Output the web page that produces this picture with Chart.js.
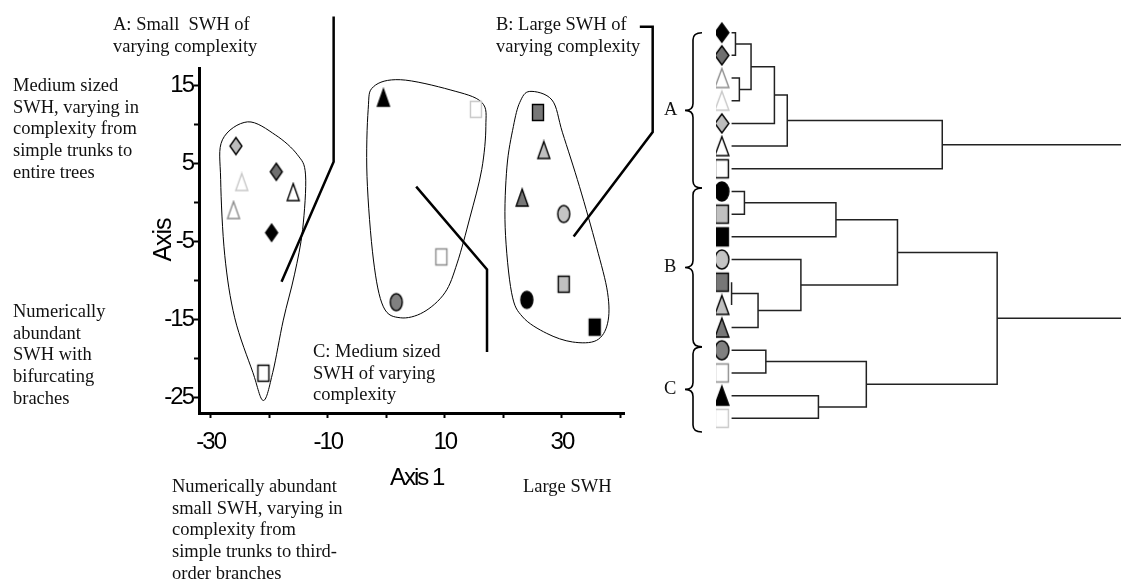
<!DOCTYPE html>
<html>
<head>
<meta charset="utf-8">
<script src="https://cdn.jsdelivr.net/npm/chart.js@4.4.1/dist/chart.umd.min.js"></script>
<style>
  body { margin: 0; background: #fff; }
  #page { position: relative; width: 1131px; height: 582px; overflow: hidden; }
  canvas { position: absolute; top: 0; }
  .note {
    position: absolute; white-space: pre; color: #111;
    font-family: 'Liberation Serif', 'Times New Roman', serif;
    font-size: 18.5px; line-height: 21.7px;
  }
  .axis-title {
    position: absolute; white-space: pre; color: #000;
    font-family: 'Liberation Sans', Arial, sans-serif;
    font-size: 24px; line-height: 28px; letter-spacing: -2px;
  }
</style>
</head>
<body>
<div id="page">
  <canvas id="ordination" width="660" height="582" style="left:0"></canvas>
  <canvas id="dendrogram" width="471" height="582" style="left:660px"></canvas>

  <div class="note" style="left:113px; top:14px">A: Small  SWH of
varying complexity</div>
  <div class="note" style="left:496px; top:14px">B: Large SWH of
varying complexity</div>
  <div class="note" style="left:13px; top:75px">Medium sized
SWH, varying in
complexity from
simple trunks to
entire trees</div>
  <div class="note" style="left:13px; top:301px">Numerically
abundant
SWH with
bifurcating
braches</div>
  <div class="note" style="left:313px; top:341px">C: Medium sized
SWH of varying
complexity</div>
  <div class="note" style="left:172px; top:476px">Numerically abundant
small SWH, varying in
complexity from
simple trunks to third-
order branches</div>
  <div class="note" style="left:523px; top:476px">Large SWH</div>

  <div class="axis-title" style="left:390px; top:463px">Axis 1</div>
  <div class="axis-title" style="left:135px; top:226px; width:54px; text-align:center; transform:rotate(-90deg); font-size:25px; letter-spacing:-1px">Axis</div>

  <div class="note group-label" id="label-A" style="left:664px">A</div>
  <div class="note group-label" id="label-B" style="left:664px">B</div>
  <div class="note group-label" id="label-C" style="left:664px">C</div>
</div>

<script>
// SWH types, in dendrogram leaf order
const SWH_TYPES = [
  'diamond-black', 'diamond-dark', 'triangle-grayline', 'triangle-paleline',
  'diamond-light', 'triangle-blackline', 'square-blackline',
  'circle-black', 'square-light', 'square-black', 'circle-light',
  'square-dark', 'triangle-light', 'triangle-dark',
  'circle-dark', 'square-grayline', 'triangle-black', 'square-paleline'
];

// ordination scores
const AXIS1_SCORES = [-19.6, -18.8, -26.1, -24.7, -25.7, -15.9, -21.0,
  24.0, 30.3, 35.6, 30.3, 25.9, 26.9, 23.2,
  1.7, 9.4, -0.5, 15.3];
const AXIS2_SCORES = [-3.9, 3.9, -1.0, 2.6, 7.2, 1.3, -21.9,
  -12.5, -10.5, -16.0, -1.5, 11.5, 6.7, 0.6,
  -12.8, -7.0, 13.4, 11.9];

const X_TICKS = [-30, -20, -10, 0, 10, 20, 30, 40];
const X_TICK_LABELS = ['-30', '', '-10', '', '10', '', '30', ''];
const Y_TICKS = [-25, -20, -15, -10, -5, 0, 5, 10, 15];
const Y_TICK_LABELS = ['-25', '', '-15', '', '-5', '', '5', '', '15'];

// group outlines (axis units)
const HULL_A_X = [-23.7, -18.9, -15.2, -13.8, -14.3, -15.7, -17.6, -19.4, -21.0, -22.8, -25.9, -27.6, -28.3, -28.0];
const HULL_A_Y = [10.3, 8.6, 6.1, 3.5, -3.5, -9.3, -15.1, -21.8, -25.4, -21.8, -14.8, -6.8, 2.9, 8.0];
const HULL_C_X = [-2.2, 2.4, 10.9, 16.3, 17.0, 16.3, 14.3, 12.1, 10.0, 6.3, 2.4, -0.5, -2.2, -3.3, -3.1];
const HULL_C_Y = [14.8, 15.7, 14.4, 12.8, 9.7, 4.2, -1.9, -7.8, -11.6, -14.1, -14.8, -13.4, -7.4, 3.3, 11.9];
const HULL_B_X = [24.5, 28.3, 30.1, 33.0, 35.9, 37.8, 37.8, 35.9, 31.8, 27.4, 23.3, 21.4, 20.3, 20.6, 21.7, 22.8];
const HULL_B_Y = [14.2, 13.1, 8.9, 2.0, -5.7, -11.6, -15.5, -17.7, -17.9, -16.8, -14.7, -11.6, -3.2, 4.5, 9.7, 12.8];

// leader lines from the group captions
const LEADER_A_X = [-9.0, -9.0, -17.9];
const LEADER_A_Y = [23.8, 5.2, -10.2];
const LEADER_B_X = [43.3, 45.5, 45.5, 32.0];
const LEADER_B_Y = [22.5, 22.5, 9.0, -4.4];
const LEADER_C_X = [5.1, 17.2, 17.2];
const LEADER_C_Y = [2.0, -8.6, -19.2];

// cluster analysis: merge k creates node 18 + k
const MERGE_LEFT = [0, 2, 18, 20, 21, 22, 7, 24, 11, 26, 10, 25, 14, 16, 30, 29];
const MERGE_RIGHT = [1, 3, 19, 4, 5, 6, 8, 9, 12, 13, 27, 28, 15, 17, 31, 32];
const MERGE_HEIGHT = [1.0, 2.0, 5.0, 11.0, 14.3, 54.1, 3.3, 26.8, 0, 6.8, 17.8, 42.6, 8.8, 22.3, 34.6, 68.2];
const TREE_EDGE = 100;

const GROUP_LABELS = ['A', 'B', 'C'];
const GROUP_SIZES = [7, 7, 4];

// ---- marker glyphs ----
const MARKER_STYLE = {
  'diamond-black':     ['diamond', '#000', '#000'],
  'diamond-dark':      ['diamond', '#707070', '#000'],
  'diamond-light':     ['diamond', '#bdbdbd', '#000'],
  'triangle-grayline': ['triangle', '#fff', '#8c8c8c'],
  'triangle-paleline': ['triangle', '#fff', '#c8c8c8'],
  'triangle-blackline':['triangle', '#fff', '#000'],
  'triangle-light':    ['triangle', '#c0c0c0', '#000'],
  'triangle-dark':     ['triangle', '#777', '#000'],
  'triangle-black':    ['triangle', '#000', '#000'],
  'square-blackline':  ['square', '#fff', '#000'],
  'square-grayline':   ['square', '#fff', '#8c8c8c'],
  'square-paleline':   ['square', '#fff', '#c8c8c8'],
  'square-light':      ['square', '#c0c0c0', '#000'],
  'square-dark':       ['square', '#777', '#000'],
  'square-black':      ['square', '#000', '#000'],
  'circle-black':      ['circle', '#000', '#000'],
  'circle-light':      ['circle', '#c4c4c4', '#000'],
  'circle-dark':       ['circle', '#808080', '#000']
};

function makeMarker(key, w, h) {
  const [shape, fill, stroke] = MARKER_STYLE[key];
  const c = document.createElement('canvas');
  c.width = w + 4;
  c.height = h + 4;
  const g = c.getContext('2d');
  g.translate(2, 2);
  g.fillStyle = fill;
  g.strokeStyle = stroke;
  g.lineWidth = 1.4;
  g.beginPath();
  if (shape === 'diamond') {
    g.moveTo(w / 2, 0); g.lineTo(w, h / 2); g.lineTo(w / 2, h); g.lineTo(0, h / 2);
  } else if (shape === 'triangle') {
    g.moveTo(w / 2, 0); g.lineTo(w, h); g.lineTo(0, h);
  } else if (shape === 'square') {
    g.rect(0.5, 0.5, w - 1, h - 1);
  } else {
    g.ellipse(w / 2, h / 2, w / 2, h / 2, 0, 0, Math.PI * 2);
  }
  g.closePath();
  g.fill();
  g.stroke();
  return c;
}

const smallMarkers = {};
const bigMarkers = {};
Object.keys(MARKER_STYLE).forEach(k => {
  smallMarkers[k] = makeMarker(k, 12, 17);
  bigMarkers[k] = makeMarker(k, 14, 19);
});

// ---- ordination plot ----
const TICK_FONT = { family: "'Liberation Sans', Arial, sans-serif", size: 24 };

function closedCurve(ctx, pts) {
  const n = pts.length;
  ctx.beginPath();
  ctx.moveTo(pts[0].x, pts[0].y);
  for (let i = 0; i < n; i++) {
    const p0 = pts[(i - 1 + n) % n], p1 = pts[i], p2 = pts[(i + 1) % n], p3 = pts[(i + 2) % n];
    ctx.bezierCurveTo(
      p1.x + (p2.x - p0.x) / 6, p1.y + (p2.y - p0.y) / 6,
      p2.x - (p3.x - p1.x) / 6, p2.y - (p3.y - p1.y) / 6,
      p2.x, p2.y);
  }
  ctx.closePath();
  ctx.stroke();
}

const hullPlugin = {
  id: 'hulls',
  beforeDraw(chart) {
    // tight digits on the axes
    chart.ctx.letterSpacing = '-2px';
  },
  beforeDatasetsDraw(chart) {
    const { ctx, scales: { x, y } } = chart;
    ctx.save();
    ctx.strokeStyle = '#000';
    ctx.lineWidth = 1;
    [[HULL_A_X, HULL_A_Y], [HULL_B_X, HULL_B_Y], [HULL_C_X, HULL_C_Y]].forEach(([xs, ys]) => {
      closedCurve(ctx, xs.map((v, i) => ({ x: x.getPixelForValue(v), y: y.getPixelForValue(ys[i]) })));
    });
    ctx.restore();
  },
  afterDraw(chart) {
    chart.ctx.letterSpacing = '0px';
  }
};

function leader(xs, ys) {
  return {
    data: xs.map((v, i) => ({ x: v, y: ys[i] })),
    showLine: true,
    borderColor: '#000',
    borderWidth: 2.5,
    pointRadius: 0,
    clip: false
  };
}

new Chart(document.getElementById('ordination'), {
  type: 'scatter',
  data: {
    datasets: [
      {
        data: AXIS1_SCORES.map((v, i) => ({ x: v, y: AXIS2_SCORES[i] })),
        pointRadius: 8,
        pointStyle: ctx => smallMarkers[SWH_TYPES[ctx.dataIndex]]
      },
      leader(LEADER_A_X, LEADER_A_Y),
      leader(LEADER_B_X, LEADER_B_Y),
      leader(LEADER_C_X, LEADER_C_Y)
    ]
  },
  options: {
    responsive: false,
    animation: false,
    layout: { padding: { left: 159, right: 36, top: 68, bottom: 129 } },
    plugins: { legend: { display: false }, tooltip: { enabled: false } },
    scales: {
      x: {
        type: 'linear', min: -32, max: 40.6,
        afterBuildTicks: s => { s.ticks = X_TICKS.map(v => ({ value: v })); },
        afterFit: s => { s.height = 40; },
        ticks: { autoSkip: false, maxRotation: 0, padding: 10, color: '#000', font: TICK_FONT,
                 callback: (v, i) => X_TICK_LABELS[i] },
        grid: { drawOnChartArea: false, drawTicks: true, tickLength: 5, tickWidth: 2, tickColor: '#000' },
        border: { display: true, color: '#000', width: 3 }
      },
      y: {
        type: 'linear', min: -27, max: 17.2,
        afterBuildTicks: s => { s.ticks = Y_TICKS.map(v => ({ value: v })); },
        afterFit: s => { s.width = 40; },
        ticks: { autoSkip: false, padding: 1, color: '#000', font: TICK_FONT,
                 callback: (v, i) => Y_TICK_LABELS[i] },
        grid: { drawOnChartArea: false, drawTicks: true, tickLength: 5, tickWidth: 2, tickColor: '#000' },
        border: { display: true, color: '#000', width: 3 }
      }
    }
  },
  plugins: [hullPlugin]
});

// ---- dendrogram ----
const nLeaves = SWH_TYPES.length;
const nodeY = SWH_TYPES.map((_, i) => i);
const nodeH = SWH_TYPES.map(() => 0);
const used = new Set();
const linkSets = [];
MERGE_HEIGHT.forEach((h, k) => {
  const a = MERGE_LEFT[k], b = MERGE_RIGHT[k];
  used.add(a); used.add(b);
  linkSets.push([
    { x: nodeH[a], y: nodeY[a] }, { x: h, y: nodeY[a] },
    { x: h, y: nodeY[b] }, { x: nodeH[b], y: nodeY[b] }
  ]);
  nodeY.push((nodeY[a] + nodeY[b]) / 2);
  nodeH.push(h);
});
nodeY.forEach((yv, id) => {
  if (id >= nLeaves && !used.has(id)) {
    linkSets.push([{ x: nodeH[id], y: yv }, { x: TREE_EDGE, y: yv }]);
  }
});

const bracePlugin = {
  id: 'braces',
  afterDraw(chart) {
    const { ctx, chartArea, scales: { y } } = chart;
    const xv = chartArea.left - 23, xt = chartArea.left - 31, xe = chartArea.left - 14, r = 7;
    ctx.save();
    ctx.strokeStyle = '#000';
    ctx.lineWidth = 1.6;
    // brace g runs from just above its first leaf down to where the next one starts
    const starts = [];
    let first = 0;
    GROUP_SIZES.forEach((size, g) => {
      starts.push(g === 0 ? first : first - 0.15);
      first += size;
    });
    starts.push(first - 1 + 0.6);
    GROUP_SIZES.forEach((size, g) => {
      const top = y.getPixelForValue(starts[g]);
      const bottom = y.getPixelForValue(starts[g + 1]);
      const mid = (top + bottom) / 2;
      ctx.beginPath();
      ctx.moveTo(xe, top);
      ctx.quadraticCurveTo(xv, top, xv, top + r);
      ctx.lineTo(xv, mid - r);
      ctx.quadraticCurveTo(xv, mid, xt, mid);
      ctx.quadraticCurveTo(xv, mid, xv, mid + r);
      ctx.lineTo(xv, bottom - r);
      ctx.quadraticCurveTo(xv, bottom, xe, bottom);
      ctx.stroke();
      const label = document.getElementById('label-' + GROUP_LABELS[g]);
      label.style.top = (mid - 11) + 'px';
    });
    ctx.restore();
  }
};

new Chart(document.getElementById('dendrogram'), {
  type: 'scatter',
  data: {
    datasets: [
      {
        data: SWH_TYPES.map((_, i) => ({ x: -2.5, y: i })),
        pointRadius: 9,
        pointStyle: ctx => bigMarkers[SWH_TYPES[ctx.dataIndex]]
      },
      ...linkSets.map(pts => ({
        data: pts, showLine: true, borderColor: '#222', borderWidth: 1.5, pointRadius: 0
      }))
    ]
  },
  options: {
    responsive: false,
    animation: false,
    layout: { padding: { left: 56, right: 0, top: 5, bottom: 141 } },
    plugins: { legend: { display: false }, tooltip: { enabled: false } },
    scales: {
      x: { type: 'linear', min: -4, max: TREE_EDGE, display: false },
      y: { type: 'linear', min: -1, max: 18, reverse: true, display: false }
    }
  },
  plugins: [bracePlugin]
});
</script>
</body>
</html>
